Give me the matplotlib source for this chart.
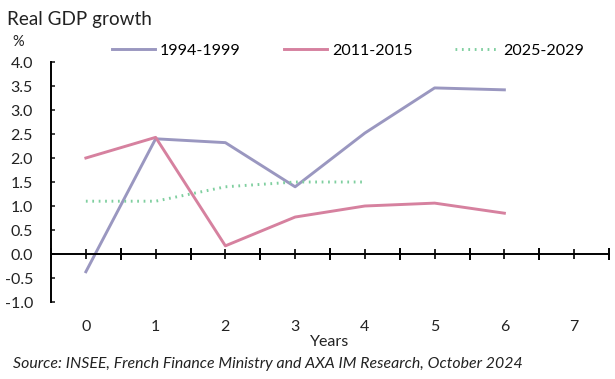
import matplotlib

matplotlib.use("Agg")
import matplotlib.pyplot as plt
from matplotlib.ticker import MultipleLocator


years = [0, 1, 2, 3, 4, 5, 6]
growth_1994 = [-0.37, 2.40, 2.32, 1.40, 2.52, 3.46, 3.42]
growth_2011 = [2.00, 2.43, 0.17, 0.77, 1.00, 1.06, 0.85]
years_2025 = [0, 1, 2, 3, 4]
growth_2025 = [1.10, 1.10, 1.40, 1.50, 1.50]
x_labels = ["0", "1", "2", "3", "4", "5", "6", "7"]

plt.rcParams["font.family"] = ["Lato", "DejaVu Sans"]
FS = 11.5
TXT = "#222222"

fig = plt.figure(figsize=(6.15, 3.79), dpi=100)
ax = fig.add_axes([51 / 615, 1 - 302 / 379, 558 / 615, 240 / 379])

ax.plot(years, growth_1994, color="#9a97c0", lw=2.1, label="1994-1999")
ax.plot(years, growth_2011, color="#d6819f", lw=2.1, label="2011-2015")
ax.plot(years_2025, growth_2025, color="#7fcf9f", lw=2.1, ls=(0, (0.6, 1.6)),
        label="2025-2029")

ax.set_xlim(-0.5, 7.5)
ax.set_ylim(-1.0, 4.0)

# y axis: short inward ticks every 0.5
ax.yaxis.set_major_locator(MultipleLocator(0.5))
ax.yaxis.set_major_formatter(lambda v, pos: f"{v:.1f}")
ax.tick_params(axis="y", direction="in", length=3, width=1.2, pad=13,
               labelsize=FS, colors=TXT)

# x axis sits on zero, crossing ticks, labels placed below the plot
ax.spines["bottom"].set_position(("data", 0))
ax.spines["top"].set_visible(False)
ax.spines["right"].set_visible(False)
for side in ["left", "bottom"]:
    ax.spines[side].set_linewidth(1.4)
    ax.spines[side].set_color("black")
ax.xaxis.set_major_locator(MultipleLocator(1.0, offset=0.5))
ax.xaxis.set_minor_locator(MultipleLocator(1.0))
ax.tick_params(axis="x", which="major", direction="inout", length=9, width=1.4,
               labelbottom=False)
ax.tick_params(axis="x", which="minor", direction="inout", length=7, width=1.2)
for i, lab in enumerate(x_labels):
    ax.text(i, -25 / 240, lab, transform=ax.get_xaxis_transform(), ha="center",
            va="center", fontsize=FS, color=TXT)

ax.text(0.5, -40 / 240, "Years", transform=ax.transAxes, ha="center", va="center",
        fontsize=FS, color=TXT)

fig.text(7 / 615, 1 - 25 / 379, "Real GDP growth", ha="left", va="baseline",
         fontsize=13.6, color=TXT)
fig.text(18 / 615, 1 - 42 / 379, "%", ha="center", va="center",
         fontsize=10.5, color=TXT)
fig.text(13 / 615, 1 - 364 / 379,
         "Source: INSEE, French Finance Ministry and AXA IM Research, October 2024",
         ha="left", va="center", fontsize=11.4, style="italic", color=TXT)

fig.legend(loc="center left", bbox_to_anchor=(112 / 615, 1 - 51 / 379), ncol=3,
           frameon=False, fontsize=FS, handlelength=2.7, handletextpad=0.3,
           columnspacing=2.7, borderaxespad=0, borderpad=0)

fig.savefig("out.png", dpi=100)
